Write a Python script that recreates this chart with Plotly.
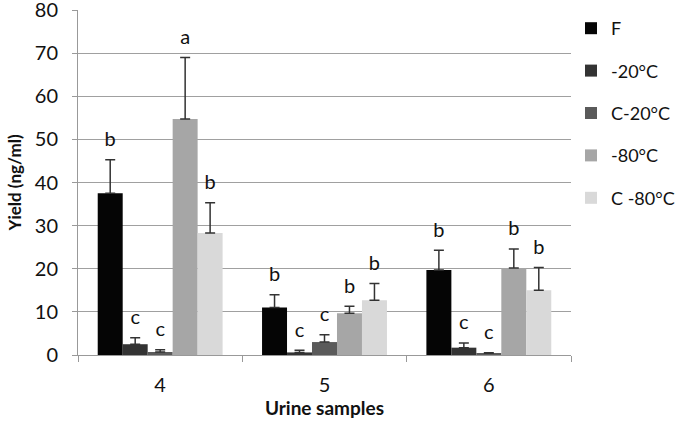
import plotly.graph_objects as go

samples = ["4", "5", "6"]
series = ["F", "-20°C", "C-20°C", "-80°C", "C -80°C"]
colors = ["#050505", "#333333", "#5a5a5a", "#a6a6a6", "#d9d9d9"]

# mean yield and top of error bar per series, for samples 4, 5, 6
means = [
    [37.5, 11.0, 19.7],
    [2.5, 0.6, 1.7],
    [0.7, 3.0, 0.4],
    [54.7, 9.7, 20.2],
    [28.3, 12.7, 15.0],
]
err_tops = [
    [45.3, 14.0, 24.3],
    [4.0, 1.1, 2.8],
    [1.2, 4.7, 0.5],
    [69.0, 11.3, 24.6],
    [35.3, 16.6, 20.3],
]
letters = [
    ["b", "b", "b"],
    ["c", "c", "c"],
    ["c", "c", "c"],
    ["a", "b", "b"],
    ["b", "b", "b"],
]

font = "Lato, Liberation Sans, sans-serif"

fig = go.Figure()
for i, name in enumerate(series):
    fig.add_trace(go.Bar(
        x=samples,
        y=means[i],
        name=name,
        legendgroup=name,
        offsetgroup=str(i),
        marker=dict(color=colors[i], line=dict(width=0)),
        error_y=dict(
            type="data",
            symmetric=False,
            array=[t - m for t, m in zip(err_tops[i], means[i])],
            arrayminus=[0, 0, 0],
            color="#333333",
            thickness=1.5,
            width=5,
        ),
    ))
# significance letters above the error bars (invisible marker pads the text upward)
for i, name in enumerate(series):
    fig.add_trace(go.Scatter(
        x=samples,
        y=err_tops[i],
        mode="markers+text",
        marker=dict(size=12, opacity=0),
        text=letters[i],
        textposition="top center",
        textfont=dict(size=20, color="#111111", family=font),
        offsetgroup=str(i),
        showlegend=False,
        hoverinfo="skip",
        cliponaxis=False,
    ))

fig.update_layout(
    width=690,
    height=422,
    margin=dict(l=78, r=117, t=10, b=67),
    paper_bgcolor="white",
    plot_bgcolor="white",
    barmode="group",
    bargap=0.24,
    bargroupgap=0,
    scattermode="group",
    scattergap=0.24,
    font=dict(family=font, color="#111111"),
    legend=dict(
        x=1.0, y=1.0, xanchor="left", yanchor="top",
        maxheight=400,
        font=dict(size=18, family=font),
        tracegroupgap=16,
        itemwidth=30,
    ),
    xaxis=dict(
        automargin=False,
        tickson="boundaries",
        ticks="outside",
        ticklen=6,
        tickcolor="#999999",
        showline=True,
        linecolor="#999999",
        linewidth=1,
        ticklabelstandoff=12,
        tickfont=dict(size=20, family=font),
        title=dict(text="<b>Urine samples</b>", font=dict(size=19, family=font), standoff=2),
    ),
    yaxis=dict(
        automargin=False,
        range=[0, 80],
        dtick=10,
        showgrid=True,
        gridcolor="#a0a0a0",
        gridwidth=1,
        zeroline=False,
        showline=True,
        linecolor="#999999",
        ticks="outside",
        ticklen=5,
        tickcolor="#999999",
        ticklabelstandoff=10,
        ticklabeloverflow="allow",
        tickfont=dict(size=20, family=font),
        title=dict(text="<b>Yield (ng/ml)</b>", font=dict(size=17, family=font), standoff=8),
    ),
)

fig.write_html(
    "out.html",
    config={"displayModeBar": False},
    post_script="document.body.style.margin='0';",
)
